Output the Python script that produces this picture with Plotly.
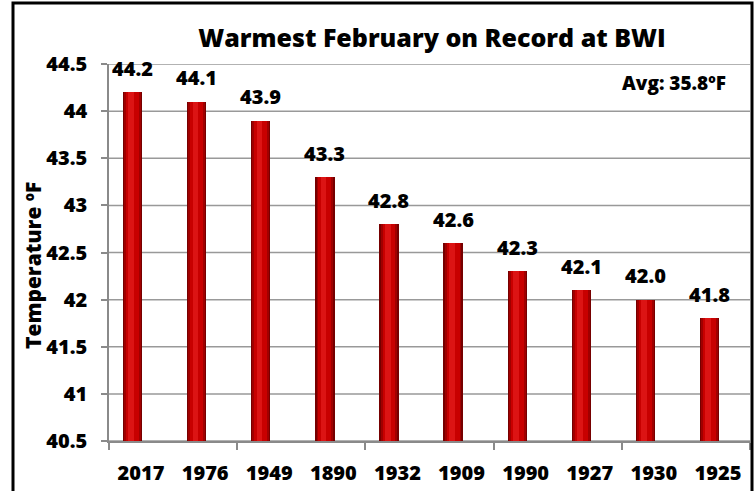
import plotly.graph_objects as go

years = ["2017", "1976", "1949", "1890", "1932", "1909", "1990", "1927", "1930", "1925"]
temps = [44.2, 44.1, 43.9, 43.3, 42.8, 42.6, 42.3, 42.1, 42.0, 41.8]
y_ticks = [40.5, 41, 41.5, 42, 42.5, 43, 43.5, 44, 44.5]
title_text = "Warmest February on Record at BWI"
avg_text = "Avg: 35.8ºF"
y_title = "Temperature ºF"

idx = list(range(len(years)))
FONT = "Open Sans"
WEIGHT = 800
W, H = 755, 491
ML, MR, MT, MB = 109, 5, 64, 50
PW, PH = W - ML - MR, H - MT - MB

def px_x(p):
    return (p - ML) / PW

def px_y(p):
    return (H - MB - p) / PH

shift = -0.132  # bar centre offset within category (3D style)

fig = go.Figure()

# horizontal gridlines at the y tick values
for v in y_ticks:
    fig.add_hline(y=v, line=dict(color="#999999", width=1.5), layer="below")

layers = [(0.30, "#760000"), (0.26, "#a00000"), (0.20, "#c80000"), (0.09, "#dc1414")]
for w, c in layers:
    fig.add_trace(go.Bar(x=idx, y=temps, width=w, offset=shift - w / 2 - (0.02 if w < 0.1 else 0),
                         marker=dict(color=c, line=dict(width=0)),
                         hoverinfo="skip", showlegend=False))

for i, v in zip(idx, temps):
    fig.add_annotation(x=i + shift, y=v, text=f"{v:.1f}", showarrow=False,
                       yanchor="middle", yshift=24,
                       font=dict(family=FONT, size=20, color="black", weight=WEIGHT))

fig.add_annotation(xref="paper", yref="paper", x=px_x(728), y=px_y(83), text=avg_text,
                   showarrow=False, xanchor="right", yanchor="middle",
                   font=dict(family=FONT, size=19, color="black", weight=WEIGHT))
fig.add_annotation(xref="paper", yref="paper", x=px_x(33), y=px_y(266), text=y_title,
                   showarrow=False, textangle=-90, xanchor="center", yanchor="middle",
                   font=dict(family=FONT, size=21, color="black", weight=WEIGHT))

# outer frame
fig.add_shape(type="rect", xref="paper", yref="paper",
              x0=px_x(13), x1=px_x(752), y0=px_y(3), y1=px_y(500),
              line=dict(color="black", width=3), fillcolor="rgba(0,0,0,0)", layer="above")

fig.update_layout(
    template="none",
    width=W, height=H,
    margin=dict(l=ML, r=MR, t=MT, b=MB, pad=0),
    paper_bgcolor="white", plot_bgcolor="white",
    barmode="overlay", bargap=0,
    title=dict(text=title_text, x=px_x(432), xref="paper", xanchor="center",
               y=1 - 38 / H, yanchor="middle",
               font=dict(family=FONT, size=25, color="black", weight=WEIGHT)),
    xaxis=dict(range=[-0.5, 9.5], tickvals=idx, ticktext=years, ticks="",
               automargin=False,
               showgrid=False, zeroline=False, showline=True, linecolor="#8a8a8a",
               linewidth=1.5, ticklabelstandoff=13,
               minor=dict(tickvals=[-0.5, 1.5, 3.5, 5.5, 7.5, 9.5], ticks="outside",
                          ticklen=7, tickcolor="#8a8a8a", tickwidth=1.5, showgrid=False),
               tickfont=dict(family=FONT, size=20, color="black", weight=WEIGHT)),
    yaxis=dict(range=[40.5, 44.5], tickmode="array", tickvals=y_ticks,
               automargin=False,
               ticks="outside", ticklen=6,
               tickcolor="#8a8a8a", tickwidth=1.5,
               showgrid=False, zeroline=False,
               showline=True, linecolor="#8a8a8a", linewidth=1.5, ticklabelstandoff=10,
               tickfont=dict(family=FONT, size=20, color="black", weight=WEIGHT)),
)

fig.write_html("out.html", config={"displayModeBar": False},
               post_script="document.body.style.margin='0';document.body.style.overflow='hidden';")
